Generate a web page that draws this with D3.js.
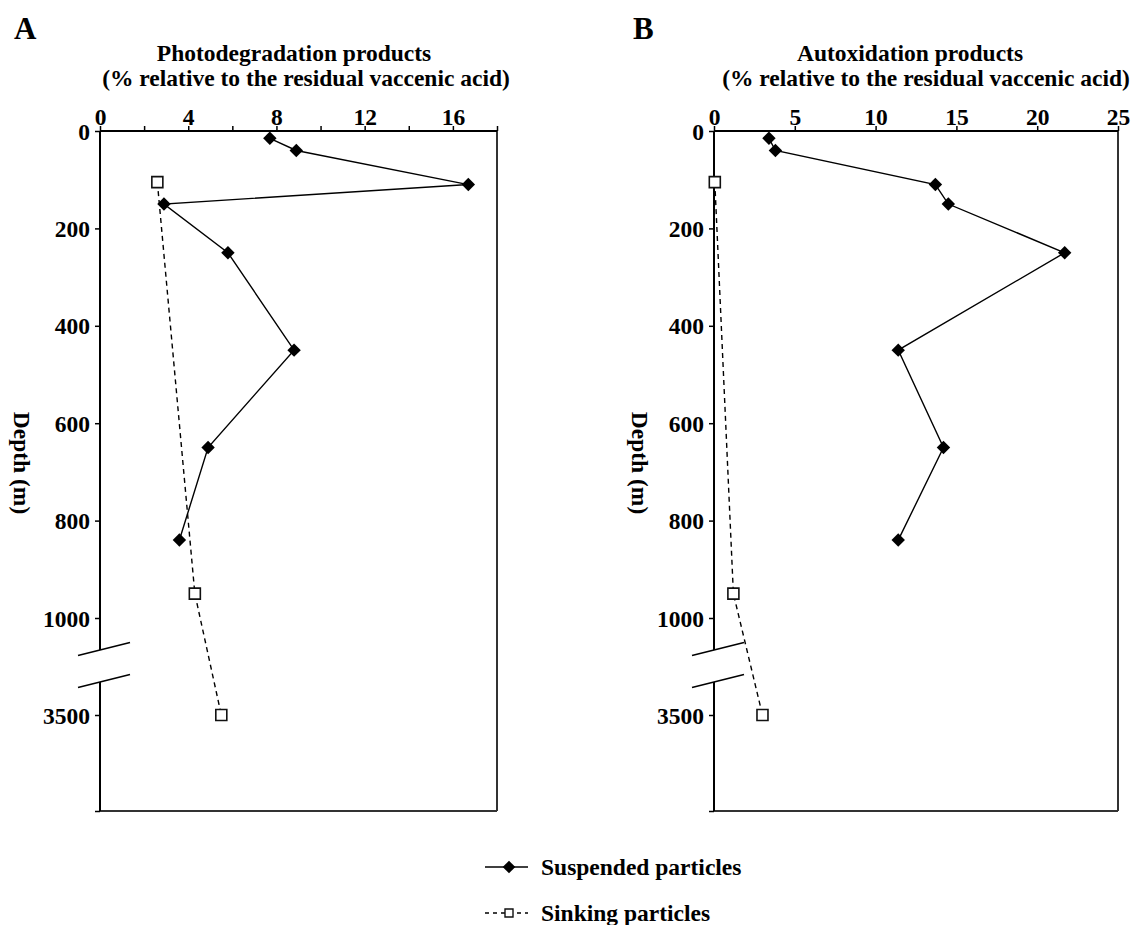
<!DOCTYPE html>
<html>
<head>
<meta charset="utf-8">
<script src="https://cdn.jsdelivr.net/npm/d3@7"></script>
<style>
  html, body { margin: 0; padding: 0; background: #fff; }
  svg text { font-family: "Liberation Serif", "Times New Roman", serif; font-weight: bold; fill: #000; }
</style>
</head>
<body>
<svg id="chart" width="1138" height="925"></svg>
<script>
// Sampling depths (m)
const depthsSuspended = [15, 40, 110, 150, 250, 450, 650, 840];
const depthsSinking = [105, 950, 3500];

// Panel A: photodegradation products (% of residual vaccenic acid)
const photoSuspended = [7.7, 8.9, 16.7, 2.9, 5.8, 8.8, 4.9, 3.6];
const photoSinking = [2.6, 4.3, 5.5];

// Panel B: autoxidation products (% of residual vaccenic acid)
const autoxSuspended = [3.4, 3.8, 13.7, 14.5, 21.7, 11.4, 14.2, 11.4];
const autoxSinking = [0.05, 1.2, 3.0];

// Axes
const depthTicks = [0, 200, 400, 600, 800, 1000, 3500];
const depthEnd = 4000;
const photoTicks = [0, 4, 8, 12, 16];
const photoMinor = [0, 2, 4, 6, 8, 10, 12, 14, 16, 18];
const autoxTicks = [0, 5, 10, 15, 20, 25];

const legendLabels = ["Suspended particles", "Sinking particles"];

const svg = d3.select("#chart");
const FONT = 23.5;

const plotTop = 131, plotBottom = 811;
// Depth axis is broken between 1000 m and 3500 m
const y = d3.scaleLinear()
  .domain([0, 1000, 3500, depthEnd])
  .range([plotTop, 618, 715, plotBottom]);

function panel(opts) {
  const { left, right, xMax, majors, minors, letter, title1, title2,
          t1x, t2x, suspended, sinking, yTitleX } = opts;
  const x = d3.scaleLinear().domain([0, xMax]).range([left, right]);
  const g = svg.append("g");

  // panel letter
  g.append("text").attr("x", opts.letterX).attr("y", 39)
    .attr("font-size", 31).text(letter);

  // titles
  g.append("text").attr("x", t1x).attr("y", 61).attr("text-anchor", "middle")
    .attr("font-size", FONT).text(title1);
  g.append("text").attr("x", t2x).attr("y", 86).attr("text-anchor", "middle")
    .attr("font-size", FONT).text(title2);

  // frame: right and bottom edges
  g.append("line").attr("x1", right).attr("x2", right).attr("y1", plotTop).attr("y2", plotBottom)
    .attr("stroke", "#333").attr("stroke-width", 2);
  g.append("line").attr("x1", left).attr("x2", right).attr("y1", plotBottom).attr("y2", plotBottom)
    .attr("stroke", "#333").attr("stroke-width", 2);

  // top value axis
  const xAxis = d3.axisTop(x).tickValues(minors).tickSize(5)
    .tickFormat(d => majors.includes(d) ? d : "");
  const xa = g.append("g").attr("transform", `translate(0,${plotTop})`).call(xAxis);
  xa.select(".domain").attr("stroke", "#000").attr("stroke-width", 2)
    .attr("d", `M${left},0H${right}`);
  xa.selectAll(".tick line").attr("stroke", "#000").attr("stroke-width", 1.5);
  xa.selectAll(".tick text").attr("font-size", FONT).attr("y", -6)
    .style("font-family", "'Liberation Serif','Times New Roman',serif").style("font-weight", "bold");

  // left depth axis (drawn in two pieces around the break)
  const mid = (y(1000) + y(3500)) / 2;
  const breakUp = mid - 16.5, breakDown = mid + 15.5;
  g.append("line").attr("x1", left).attr("x2", left).attr("y1", plotTop).attr("y2", breakUp)
    .attr("stroke", "#000").attr("stroke-width", 2);
  g.append("line").attr("x1", left).attr("x2", left).attr("y1", breakDown).attr("y2", plotBottom)
    .attr("stroke", "#000").attr("stroke-width", 2);
  [breakUp, breakDown].forEach(yy => {
    g.append("line")
      .attr("x1", left - 22).attr("y1", yy + 5.5)
      .attr("x2", left + 30).attr("y2", yy - 7.5)
      .attr("stroke", "#000").attr("stroke-width", 1.6);
  });

  const yAxis = d3.axisLeft(y).tickValues(depthTicks.concat([depthEnd])).tickSize(5)
    .tickFormat(d => depthTicks.includes(d) ? d : "");
  const ya = g.append("g").attr("transform", `translate(${left},0)`).call(yAxis);
  ya.select(".domain").remove();
  ya.selectAll(".tick line").attr("stroke", "#000").attr("stroke-width", 1.5);
  ya.selectAll(".tick text").attr("font-size", FONT).attr("x", -10).attr("dy", "0.34em")
    .style("font-family", "'Liberation Serif','Times New Roman',serif").style("font-weight", "bold");

  // depth title
  g.append("text").attr("transform", `translate(${yTitleX},463) rotate(90)`)
    .attr("text-anchor", "middle").attr("dy", "0.35em")
    .attr("font-size", FONT).text("Depth (m)");

  // sinking particles: dashed line + open squares
  const sinkPts = depthsSinking.map((d, i) => [x(sinking[i]), y(d)]);
  g.append("path").attr("d", d3.line()(sinkPts)).attr("fill", "none")
    .attr("stroke", "#000").attr("stroke-width", 1.4).attr("stroke-dasharray", "5,4");
  g.selectAll(".sq").data(sinkPts).join("path")
    .attr("d", d3.symbol(d3.symbolSquare, 121)())
    .attr("transform", d => `translate(${d[0]},${d[1]})`)
    .attr("fill", "#fff").attr("stroke", "#111").attr("stroke-width", 1.6);

  // suspended particles: solid line + filled diamonds
  const suspPts = depthsSuspended.map((d, i) => [x(suspended[i]), y(d)]);
  g.append("path").attr("d", d3.line()(suspPts)).attr("fill", "none")
    .attr("stroke", "#000").attr("stroke-width", 1.4);
  g.selectAll(".dm").data(suspPts).join("path")
    .attr("d", d3.symbol(d3.symbolSquare, 90)())
    .attr("transform", d => `translate(${d[0]},${d[1]}) rotate(45)`)
    .attr("fill", "#000");
}

panel({
  left: 100, right: 497, xMax: 18, majors: photoTicks, minors: photoMinor,
  letter: "A", letterX: 14,
  title1: "Photodegradation products",
  title2: "(% relative to the residual vaccenic acid)",
  t1x: 294, t2x: 306, yTitleX: 22,
  suspended: photoSuspended, sinking: photoSinking
});

panel({
  left: 714, right: 1118, xMax: 25, majors: autoxTicks, minors: autoxTicks,
  letter: "B", letterX: 633,
  title1: "Autoxidation products",
  title2: "(% relative to the residual vaccenic acid)",
  t1x: 910, t2x: 926, yTitleX: 640,
  suspended: autoxSuspended, sinking: autoxSinking
});

// legend
const lg = svg.append("g");
const lx0 = 485, lx1 = 528, lsym = 509, ltext = 541;
const rows = [867, 913];
lg.append("line").attr("x1", lx0).attr("x2", lx1).attr("y1", rows[0]).attr("y2", rows[0])
  .attr("stroke", "#000").attr("stroke-width", 1.5);
lg.append("path").attr("d", d3.symbol(d3.symbolSquare, 80)())
  .attr("transform", `translate(${lsym},${rows[0]}) rotate(45)`).attr("fill", "#000");
lg.append("line").attr("x1", lx0).attr("x2", lx1).attr("y1", rows[1]).attr("y2", rows[1])
  .attr("stroke", "#000").attr("stroke-width", 1.3).attr("stroke-dasharray", "4,4");
lg.append("path").attr("d", d3.symbol(d3.symbolSquare, 64)())
  .attr("transform", `translate(${lsym},${rows[1]})`)
  .attr("fill", "#fff").attr("stroke", "#111").attr("stroke-width", 1.4);
legendLabels.forEach((t, i) => {
  lg.append("text").attr("x", ltext).attr("y", rows[i] + 7.5)
    .attr("font-size", FONT).text(t);
});
</script>
</body>
</html>
